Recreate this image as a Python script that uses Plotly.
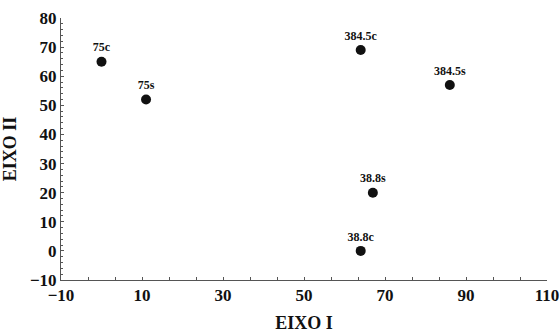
import plotly.graph_objects as go

labels = ["75c", "75s", "384.5c", "384.5s", "38.8s", "38.8c"]
eixo_i = [0, 11, 64, 86, 67, 64]
eixo_ii = [65, 52, 69, 57, 20, 0]

x_ticks = [-10, 10, 30, 50, 70, 90, 110]
y_ticks = [-10, 0, 10, 20, 30, 40, 50, 60, 70, 80]

font_family = "Times New Roman, Liberation Serif, Times, serif"

fig = go.Figure()
fig.add_trace(go.Scatter(
    x=eixo_i, y=eixo_ii, mode="markers+text",
    text=labels,
    textposition="top center",
    textfont=dict(family=font_family, size=12, color="#111", weight="bold"),
    marker=dict(size=10, color="#111"),
    cliponaxis=False,
    showlegend=False,
))

axis_common = dict(
    showgrid=False, zeroline=False, showline=True, linecolor="#555", linewidth=1,
    ticks="inside", ticklen=3, tickcolor="#555", automargin=False,
    tickfont=dict(family=font_family, size=17, color="#111", weight="bold"),
    title_font=dict(family=font_family, size=18, color="#111", weight="bold"),
)

fig.update_xaxes(
    range=[-10, 110], tickvals=x_ticks,
    title_text="EIXO I", title_standoff=14,
    minor=dict(ticks="inside", ticklen=3, tickcolor="#555", tick0=-10, dtick=20 / 3),
    **axis_common,
)
fig.update_yaxes(
    range=[-10, 80], tickvals=y_ticks,
    title_text="EIXO II", title_standoff=8,
    minor=dict(ticks="inside", ticklen=2, tickcolor="#555", tick0=-10, dtick=2),
    **axis_common,
)

fig.update_layout(
    width=560, height=333,
    margin=dict(l=61, r=13, t=18, b=53),
    plot_bgcolor="white", paper_bgcolor="white",
)

fig.write_html("out.html")
